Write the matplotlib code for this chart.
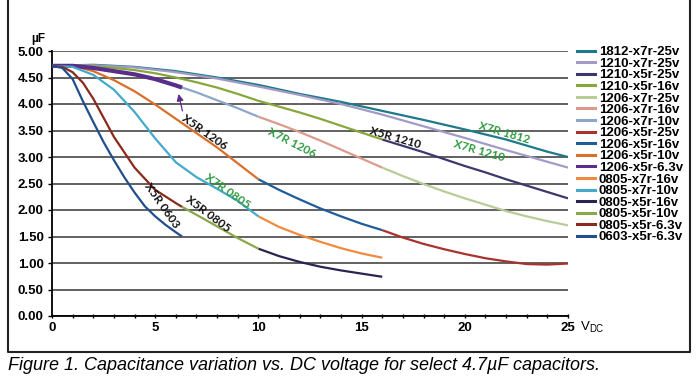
import matplotlib
matplotlib.use('Agg')
import matplotlib.pyplot as plt
import numpy as np
from matplotlib.lines import Line2D

plt.rcParams['font.family'] = ['Liberation Sans', 'DejaVu Sans']

# visible segment of each curve (volts, uF)
v_1812_x7r_25 = [0, 2, 4, 6, 8, 10, 12, 14, 16, 18, 20, 22, 24, 25]
c_1812_x7r_25 = [4.72, 4.74, 4.70, 4.62, 4.50, 4.36, 4.19, 4.04, 3.87, 3.70, 3.52, 3.33, 3.10, 3.00]
v_1210_x7r_25 = [0, 2, 4, 6, 8, 10, 12, 14, 16, 18, 20, 22, 24, 25]
c_1210_x7r_25 = [4.72, 4.73, 4.69, 4.60, 4.48, 4.33, 4.17, 4.00, 3.80, 3.58, 3.36, 3.13, 2.91, 2.80]
v_1210_x5r_25 = [16, 17, 18, 19, 20, 21, 22, 23, 24, 25]
c_1210_x5r_25 = [3.33, 3.21, 3.09, 2.96, 2.83, 2.71, 2.58, 2.46, 2.34, 2.22]
v_1210_x5r_16 = [0, 1, 2, 3, 4, 5, 6, 7, 8, 9, 10, 11, 12, 13, 14, 15, 16]
c_1210_x5r_16 = [4.72, 4.73, 4.71, 4.68, 4.64, 4.58, 4.50, 4.41, 4.31, 4.19, 4.06, 3.95, 3.84, 3.72, 3.59, 3.46, 3.33]
v_1206_x7r_25 = [16, 17, 18, 19, 20, 21, 22, 23, 24, 25]
c_1206_x7r_25 = [2.80, 2.64, 2.49, 2.35, 2.22, 2.10, 1.98, 1.88, 1.79, 1.71]
v_1206_x7r_16 = [10, 11, 12, 13, 14, 15, 16]
c_1206_x7r_16 = [3.76, 3.62, 3.47, 3.31, 3.14, 2.97, 2.80]
v_1206_x7r_10 = [0, 1, 2, 3, 4, 5, 6, 7, 8, 9, 10]
c_1206_x7r_10 = [4.72, 4.72, 4.68, 4.62, 4.56, 4.47, 4.35, 4.22, 4.07, 3.92, 3.76]
v_1206_x5r_25 = [16, 17, 18, 19, 20, 21, 22, 23, 24, 25]
c_1206_x5r_25 = [1.62, 1.48, 1.36, 1.26, 1.17, 1.09, 1.03, 0.98, 0.97, 0.99]
v_1206_x5r_16 = [10, 11, 12, 13, 14, 15, 16]
c_1206_x5r_16 = [2.58, 2.38, 2.20, 2.03, 1.88, 1.74, 1.62]
v_1206_x5r_10 = [0, 1, 2, 3, 4, 5, 6, 7, 8, 9, 10]
c_1206_x5r_10 = [4.72, 4.72, 4.62, 4.45, 4.24, 3.99, 3.72, 3.45, 3.18, 2.88, 2.58]
v_1206_x5r_63 = [0, 1, 2, 3, 4, 5, 6, 6.3]
c_1206_x5r_63 = [4.72, 4.72, 4.68, 4.62, 4.56, 4.47, 4.35, 4.31]
v_0805_x7r_16 = [10, 11, 12, 13, 14, 15, 16]
c_0805_x7r_16 = [1.88, 1.68, 1.53, 1.40, 1.28, 1.18, 1.10]
v_0805_x7r_10 = [0, 1, 2, 3, 4, 5, 6, 7, 8, 9, 10]
c_0805_x7r_10 = [4.72, 4.70, 4.55, 4.27, 3.85, 3.35, 2.90, 2.62, 2.40, 2.17, 1.88]
v_0805_x5r_16 = [10, 11, 12, 13, 14, 15, 16]
c_0805_x5r_16 = [1.27, 1.13, 1.02, 0.93, 0.86, 0.80, 0.74]
v_0805_x5r_10 = [6.3, 7, 8, 9, 10]
c_0805_x5r_10 = [2.06, 1.91, 1.69, 1.47, 1.27]
v_0805_x5r_63 = [0, 0.5, 1, 1.5, 2, 3, 4, 5, 6, 6.3]
c_0805_x5r_63 = [4.72, 4.70, 4.60, 4.40, 4.10, 3.38, 2.80, 2.38, 2.13, 2.06]
v_0603_x5r_63 = [0, 0.5, 1, 1.5, 2, 2.5, 3, 3.5, 4, 4.5, 5, 5.5, 6, 6.3]
c_0603_x5r_63 = [4.72, 4.68, 4.47, 4.05, 3.66, 3.28, 2.94, 2.62, 2.33, 2.07, 1.88, 1.72, 1.58, 1.50]

names = ['1812-x7r-25v', '1210-x7r-25v', '1210-x5r-25v', '1210-x5r-16v',
         '1206-x7r-25v', '1206-x7r-16v', '1206-x7r-10v', '1206-x5r-25v',
         '1206-x5r-16v', '1206-x5r-10v', '1206-x5r-6.3v', '0805-x7r-16v',
         '0805-x7r-10v', '0805-x5r-16v', '0805-x5r-10v', '0805-x5r-6.3v',
         '0603-x5r-6.3v']
volts = [v_1812_x7r_25, v_1210_x7r_25, v_1210_x5r_25, v_1210_x5r_16,
         v_1206_x7r_25, v_1206_x7r_16, v_1206_x7r_10, v_1206_x5r_25,
         v_1206_x5r_16, v_1206_x5r_10, v_1206_x5r_63, v_0805_x7r_16,
         v_0805_x7r_10, v_0805_x5r_16, v_0805_x5r_10, v_0805_x5r_63,
         v_0603_x5r_63]
caps = [c_1812_x7r_25, c_1210_x7r_25, c_1210_x5r_25, c_1210_x5r_16,
        c_1206_x7r_25, c_1206_x7r_16, c_1206_x7r_10, c_1206_x5r_25,
        c_1206_x5r_16, c_1206_x5r_10, c_1206_x5r_63, c_0805_x7r_16,
        c_0805_x7r_10, c_0805_x5r_16, c_0805_x5r_10, c_0805_x5r_63,
        c_0603_x5r_63]
colors = ['#1e7a8a', '#a49ac6', '#3d3770', '#86a83a',
          '#b8cc98', '#dc9a8c', '#8ca6cc', '#a8322e',
          '#1f5c9a', '#d9702a', '#5a2d8a', '#f08a40',
          '#44aacb', '#2a2452', '#8aa84a', '#8a2a1a',
          '#214f8c']

fig = plt.figure(figsize=(7, 3.87), dpi=100)
ax = fig.add_axes([52/700, 1-316/387, 516/700, 265/387])

for i in range(len(names)):
    lw = 3.0 if names[i] == '1206-x5r-6.3v' else 1.6
    ax.plot(volts[i], caps[i], color=colors[i], lw=lw, solid_capstyle='butt', zorder=3)

ax.set_xlim(0, 25)
ax.set_ylim(0, 5)
ax.set_yticks(np.arange(0, 5.01, 0.5))
ax.set_yticklabels(['%.2f' % t for t in np.arange(0, 5.01, 0.5)], fontweight='bold', fontsize=9.5)
ax.set_xticks([0, 5, 10, 15, 20, 25])
ax.set_xticklabels(['0', '5', '10', '15', '20', '25'], fontweight='bold', fontsize=9.5)
ax.set_xticks(range(26), minor=True)
ax.tick_params(axis='x', which='both', direction='inout', length=3, width=1, pad=3)
ax.tick_params(axis='y', length=3, width=1, pad=3)
ax.yaxis.grid(True, color='#555555', lw=1.3)
ax.set_axisbelow(True)
for s in ['top', 'right']:
    ax.spines[s].set_visible(False)
ax.spines['left'].set_linewidth(1.3)
ax.spines['bottom'].set_linewidth(1.3)

# curve labels
lbl = dict(family=['Lato', 'DejaVu Sans'], fontsize=8.5, fontweight='bold',
           ha='center', va='center', zorder=5)
ax.text(5.3, 2.08, 'X5R 0603', rotation=-55, color='#111111', **lbl)
ax.text(7.55, 1.92, 'X5R 0805', rotation=-37, color='#111111', **lbl)
ax.text(8.5, 2.36, 'X7R 0805', rotation=-35, color='#2e9a3e', **lbl)
ax.text(7.4, 3.46, 'X5R 1206', rotation=-35, color='#111111', **lbl)
ax.text(11.63, 3.27, 'X7R 1206', rotation=-27, color='#2e9a3e', **lbl)
ax.text(16.62, 3.37, 'X5R 1210', rotation=-16, color='#111111', **lbl)
ax.text(21.9, 3.46, 'X7R 1812', rotation=-16, color='#2e9a3e', **lbl)
ax.text(20.69, 3.12, 'X7R 1210', rotation=-16, color='#2e9a3e', **lbl)
ax.annotate('', xy=(6.1, 4.24), xytext=(6.35, 3.82),
            arrowprops=dict(arrowstyle='-|>', color='#5a2d8a', lw=0.9, mutation_scale=10), zorder=5)

handles = [Line2D([], [], color=c, lw=2.2) for c in colors]
fig.legend(handles, names, loc='upper left', bbox_to_anchor=(577/700, 1-46/387),
           frameon=False, prop=dict(weight='bold', size=9.5), handlelength=1.35,
           handletextpad=0.3, labelspacing=-0.05, borderpad=0, borderaxespad=0)

fig.text(38/700, 1-39/387, 'µF', fontsize=8.5, fontweight='bold', ha='center', va='center')
fig.text(581/700, 1-327/387, 'V', fontsize=9.5, ha='left', va='center')
fig.text(589.5/700, 1-329/387, 'DC', fontsize=7, ha='left', va='center')

# frame round the chart and caption
fig.add_artist(Line2D([8/700, 8/700, 690/700, 690/700], [1.0, 1-352/387, 1-352/387, 1.0],
                      transform=fig.transFigure, color='#222222', lw=1.5))
fig.text(8/700, 1-366/387, 'Figure 1. Capacitance variation vs. DC voltage for select 4.7µF capacitors.',
         style='italic', fontsize=13, va='center', ha='left')

fig.savefig('out.png', dpi=100)
